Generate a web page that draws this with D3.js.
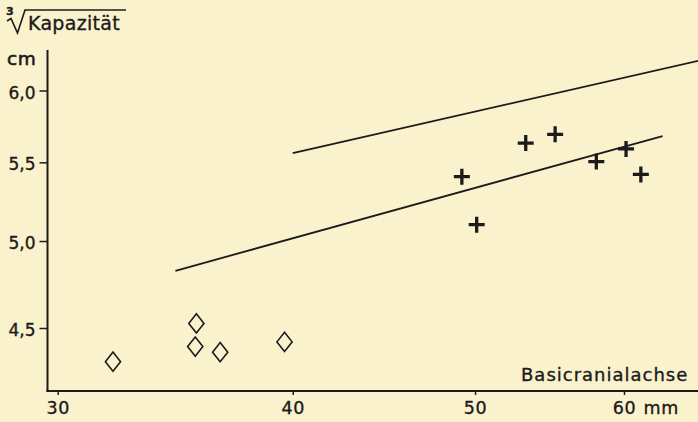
<!DOCTYPE html>
<html>
<head>
<meta charset="utf-8">
<script src="https://cdn.jsdelivr.net/npm/d3@7/dist/d3.min.js"></script>
<style>
  html, body { margin: 0; padding: 0; background: #faf2cd; }
  svg { display: block; }
  text { font-family: "DejaVu Sans", sans-serif; fill: #1b1b1b; stroke: #1b1b1b; stroke-width: 0.35px; }
</style>
</head>
<body>
<svg id="chart" width="698" height="422"></svg>
<script>
// ---- Data ----
const xTicks = [30, 40, 50, 60];
const yTicks = [4.5, 5.0, 5.5, 6.0];

// Diamonds (group 1): Basicranialachse (mm), cube root of capacity (cm)
const diamondX = [32.1, 35.55, 35.5, 36.6, 39.6];
const diamondY = [4.32, 4.525, 4.40, 4.37, 4.425];

// Crosses (group 2)
const crossX = [49.2, 50.1, 53.2, 55.15, 58.0, 60.15, 61.25];
const crossY = [5.405, 5.10, 5.63, 5.69, 5.505, 5.59, 5.42];

// Regression / boundary lines (endpoints)
const lowerLineX = [34.65, 62.9];
const lowerLineY = [4.823, 5.678];
const upperLineX = [40.0, 65.8];
const upperLineY = [5.561, 6.222];

// ---- Layout ----
const svg = d3.select("#chart");
const ink = "#1b1b1b";

const x = d3.scaleLog().domain([30, 60]).range([57.7, 624]);
const y = d3.scaleLog().domain([4.5, 6.0]).range([328, 90.5]);

const axisX0 = 47.5, axisY0 = 391;

// Axis frame lines
svg.append("line")
  .attr("x1", axisX0).attr("x2", axisX0)
  .attr("y1", 50).attr("y2", axisY0 + 1)
  .attr("stroke", ink).attr("stroke-width", 2);
svg.append("line")
  .attr("x1", axisX0 - 1).attr("x2", 698)
  .attr("y1", axisY0).attr("y2", axisY0)
  .attr("stroke", ink).attr("stroke-width", 2);

// X axis
const gx = svg.append("g")
  .attr("transform", `translate(0,${axisY0})`)
  .call(d3.axisBottom(x).tickValues(xTicks).tickSize(4).tickPadding(6.5)
        .tickFormat(d3.format("d")));
gx.select(".domain").remove();
gx.selectAll(".tick line").attr("stroke", ink).attr("stroke-width", 1.5);
gx.selectAll(".tick text")
  .style("font-family", "DejaVu Sans, sans-serif")
  .style("font-size", "17.5px").attr("fill", ink)
  .style("letter-spacing", "0.6px");

svg.append("text")
  .attr("x", x(60) + 19.5).attr("y", 414)
  .style("font-size", "17.5px").style("letter-spacing", "0.6px")
  .text("mm");

// Y axis
const gy = svg.append("g")
  .attr("transform", `translate(${axisX0},0)`)
  .call(d3.axisLeft(y).tickValues(yTicks).tickSize(8).tickPadding(4)
        .tickFormat(d => d3.format(".1f")(d).replace(".", ",")));
gy.select(".domain").remove();
gy.selectAll(".tick line").attr("stroke", ink).attr("stroke-width", 1.5);
gy.selectAll(".tick text")
  .style("font-family", "DejaVu Sans, sans-serif")
  .style("font-size", "17px").attr("fill", ink)
  .attr("dy", "0.45em");

// Y axis title: cube root of Kapazität, unit cm
svg.append("path")
  .attr("d", "M7,21 L11,18.5 L17.5,33 L25,10 L126,10")
  .attr("fill", "none").attr("stroke", ink).attr("stroke-width", 1.6)
  .attr("stroke-linejoin", "miter");
svg.append("text").attr("x", 6).attr("y", 14.5)
  .style("font-size", "11px").style("font-weight", "bold").text("3");
svg.append("text").attr("x", 28).attr("y", 29.5)
  .style("font-size", "19px").style("letter-spacing", "0.3px")
  .text("Kapazität");
svg.append("text").attr("x", 7).attr("y", 65)
  .style("font-size", "18.5px").style("letter-spacing", "0.6px")
  .style("stroke-width", "0.6px")
  .text("cm");

// X axis title
svg.append("text").attr("x", 521).attr("y", 381)
  .style("font-size", "18px").style("letter-spacing", "1.0px")
  .text("Basicranialachse");

// Lines
const lineGen = d3.line().x(d => x(d[0])).y(d => y(d[1]));
const lines = [
  d3.zip(lowerLineX, lowerLineY),
  d3.zip(upperLineX, upperLineY)
];
svg.selectAll("path.fit").data(lines).enter().append("path")
  .attr("class", "fit")
  .attr("d", lineGen)
  .attr("fill", "none").attr("stroke", ink).attr("stroke-width", 1.8);

// Diamonds
const diamonds = d3.zip(diamondX, diamondY);
svg.selectAll("path.diamond").data(diamonds).enter().append("path")
  .attr("class", "diamond")
  .attr("transform", d => `translate(${x(d[0])},${y(d[1])})`)
  .attr("d", "M0,-9.6L7.6,0L0,9.6L-7.6,0Z")
  .attr("fill", "none").attr("stroke", ink).attr("stroke-width", 1.6)
  .attr("stroke-linejoin", "miter");

// Crosses
const crosses = d3.zip(crossX, crossY);
svg.selectAll("path.cross").data(crosses).enter().append("path")
  .attr("class", "cross")
  .attr("transform", d => `translate(${x(d[0])},${y(d[1])})`)
  .attr("d", "M-8,0H8M0,-8V8")
  .attr("fill", "none").attr("stroke", ink).attr("stroke-width", 3.3);
</script>
</body>
</html>
